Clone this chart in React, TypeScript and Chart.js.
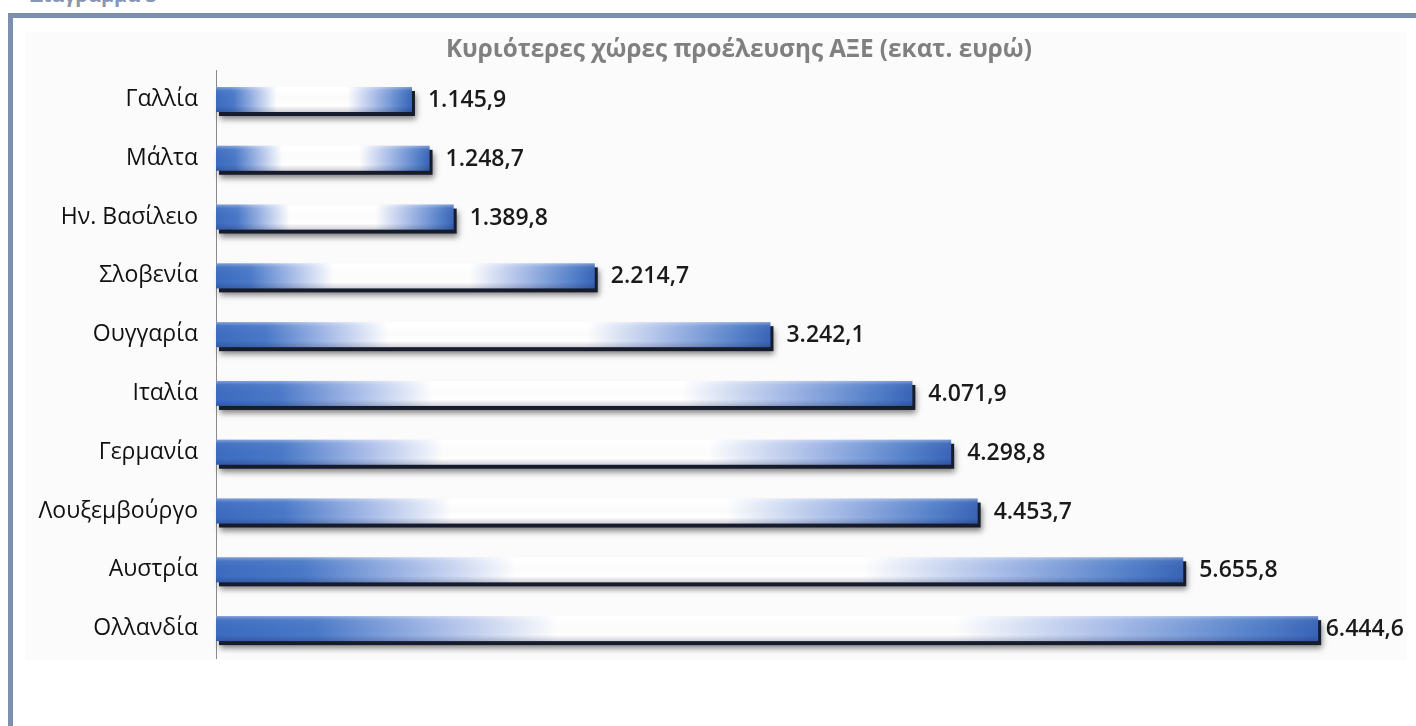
import React, { useEffect, useRef } from "react";
import { Chart, registerables } from "chart.js";

Chart.register(...registerables);

const categories = [
  "Γαλλία",
  "Μάλτα",
  "Ην. Βασίλειο",
  "Σλοβενία",
  "Ουγγαρία",
  "Ιταλία",
  "Γερμανία",
  "Λουξεμβούργο",
  "Αυστρία",
  "Ολλανδία",
];
const values = [1145.9, 1248.7, 1389.8, 2214.7, 3242.1, 4071.9, 4298.8, 4453.7, 5655.8, 6444.6];
const titleText = "Κυριότερες χώρες προέλευσης ΑΞΕ (εκατ. ευρώ)";
const headingText = "Διάγραμμα 3";
const xMax = 6900;

const FONT = "'Open Sans', 'DejaVu Sans', sans-serif";
const CANVAS_W = 1391;
const CANVAS_H = 628;

function formatGreek(v: number): string {
  const fixed = v.toFixed(1);
  const [intPart, dec] = fixed.split(".");
  const withDots = intPart.replace(/\B(?=(\d{3})+(?!\d))/g, ".");
  return withDots + "," + dec;
}

const fancyBars = {
  id: "fancyBars",
  afterDatasetsDraw(chart: any) {
    const ctx: CanvasRenderingContext2D = chart.ctx;
    const meta = chart.getDatasetMeta(0);
    const limitRight = chart.width - 12;
    meta.data.forEach((el: any, i: number) => {
      const p = el.getProps(["x", "y", "base", "height"], true);
      const left = Math.min(p.base, p.x);
      const right = Math.max(p.base, p.x);
      const w = right - left;
      const h = p.height;
      const top = p.y - h / 2;

      // shadow / dark bevel
      ctx.save();
      ctx.shadowColor = "rgba(0,0,0,0.5)";
      ctx.shadowBlur = 6;
      ctx.shadowOffsetX = 1;
      ctx.shadowOffsetY = 3;
      ctx.fillStyle = "#171c2c";
      ctx.fillRect(left + 3, top + 4, w, h);
      ctx.restore();

      // horizontal gradient
      const g = ctx.createLinearGradient(left, 0, right, 0);
      g.addColorStop(0, "#3c6bc0");
      g.addColorStop(0.09, "#4a79c8");
      g.addColorStop(0.2, "#a6bbe8");
      g.addColorStop(0.31, "#ffffff");
      g.addColorStop(0.67, "#ffffff");
      g.addColorStop(0.82, "#a3b9e7");
      g.addColorStop(0.94, "#5682cb");
      g.addColorStop(1, "#3964b7");
      ctx.fillStyle = g;
      ctx.fillRect(left, top, w, h);

      // vertical gloss
      const v = ctx.createLinearGradient(0, top, 0, top + h);
      v.addColorStop(0, "rgba(255,255,255,0.35)");
      v.addColorStop(0.15, "rgba(255,255,255,0.05)");
      v.addColorStop(0.75, "rgba(0,0,40,0.0)");
      v.addColorStop(1, "rgba(0,0,40,0.18)");
      ctx.fillStyle = v;
      ctx.fillRect(left, top, w, h);

      // value label
      ctx.save();
      ctx.font = `600 23px ${FONT}`;
      ctx.fillStyle = "#1a1a1a";
      ctx.textBaseline = "middle";
      ctx.textAlign = "left";
      const txt = formatGreek(values[i]);
      const tw = ctx.measureText(txt).width;
      let tx = right + 16;
      if (tx + tw > limitRight) tx = limitRight - tw;
      ctx.fillText(txt, tx, p.y + 1);
      ctx.restore();
    });
  },
  afterDraw(chart: any) {
    const ctx: CanvasRenderingContext2D = chart.ctx;
    ctx.save();
    ctx.font = `bold 24.3px ${FONT}`;
    ctx.fillStyle = "#808080";
    ctx.textAlign = "center";
    ctx.textBaseline = "middle";
    ctx.fillText(titleText, 714, 18.5);
    ctx.restore();
  },
};

export default function App() {
  const canvasRef = useRef<HTMLCanvasElement | null>(null);

  useEffect(() => {
    if (!canvasRef.current) return;
    const chart = new Chart(canvasRef.current, {
      type: "bar",
      data: {
        labels: categories,
        datasets: [
          {
            data: values,
            backgroundColor: "transparent",
            borderWidth: 0,
            categoryPercentage: 1,
            barPercentage: 0.425,
          },
        ],
      },
      options: {
        indexAxis: "y",
        animation: false,
        responsive: false,
        layout: { padding: { left: 0, right: 20, top: 38.1, bottom: 2 } },
        plugins: {
          legend: { display: false },
          tooltip: { enabled: false },
          title: { display: false },
        },
        scales: {
          x: {
            display: false,
            min: 0,
            max: xMax,
          },
          y: {
            grid: { display: false, drawTicks: false },
            border: { display: true, color: "#8a8a8a", width: 1 },
            ticks: {
              color: "#111111",
              padding: 18,
              font: { family: FONT, size: 23, weight: "500" },
            },
            afterFit(scale: any) {
              scale.width = 191;
              scale.paddingTop = 0;
              scale.paddingBottom = 0;
            },
          },
        },
      },
      plugins: [fancyBars],
    });
    return () => chart.destroy();
  }, []);

  return (
    <div
      style={{
        position: "absolute",
        left: 0,
        top: 0,
        width: 1416,
        height: 726,
        overflow: "hidden",
        background: "#ffffff",
      }}
    >
      <div
        style={{
          position: "absolute",
          left: 30,
          top: -15,
          fontFamily: FONT,
          fontWeight: 700,
          fontSize: 20,
          lineHeight: 1,
          color: "#8796b3",
          whiteSpace: "nowrap",
        }}
      >
        {headingText}
      </div>
      <div
        style={{
          position: "absolute",
          left: 8,
          top: 13,
          width: 1500,
          height: 800,
          border: "5px solid #7d8fae",
          boxSizing: "border-box",
          background: "#ffffff",
        }}
      />
      <div
        style={{
          position: "absolute",
          left: 25,
          top: 32,
          width: 1382,
          height: 628,
          background: "#fbfbfb",
        }}
      />
      <canvas
        ref={canvasRef}
        width={CANVAS_W}
        height={CANVAS_H}
        style={{
          position: "absolute",
          left: 25,
          top: 32,
          width: CANVAS_W,
          height: CANVAS_H,
          display: "block",
        }}
      />
    </div>
  );
}
